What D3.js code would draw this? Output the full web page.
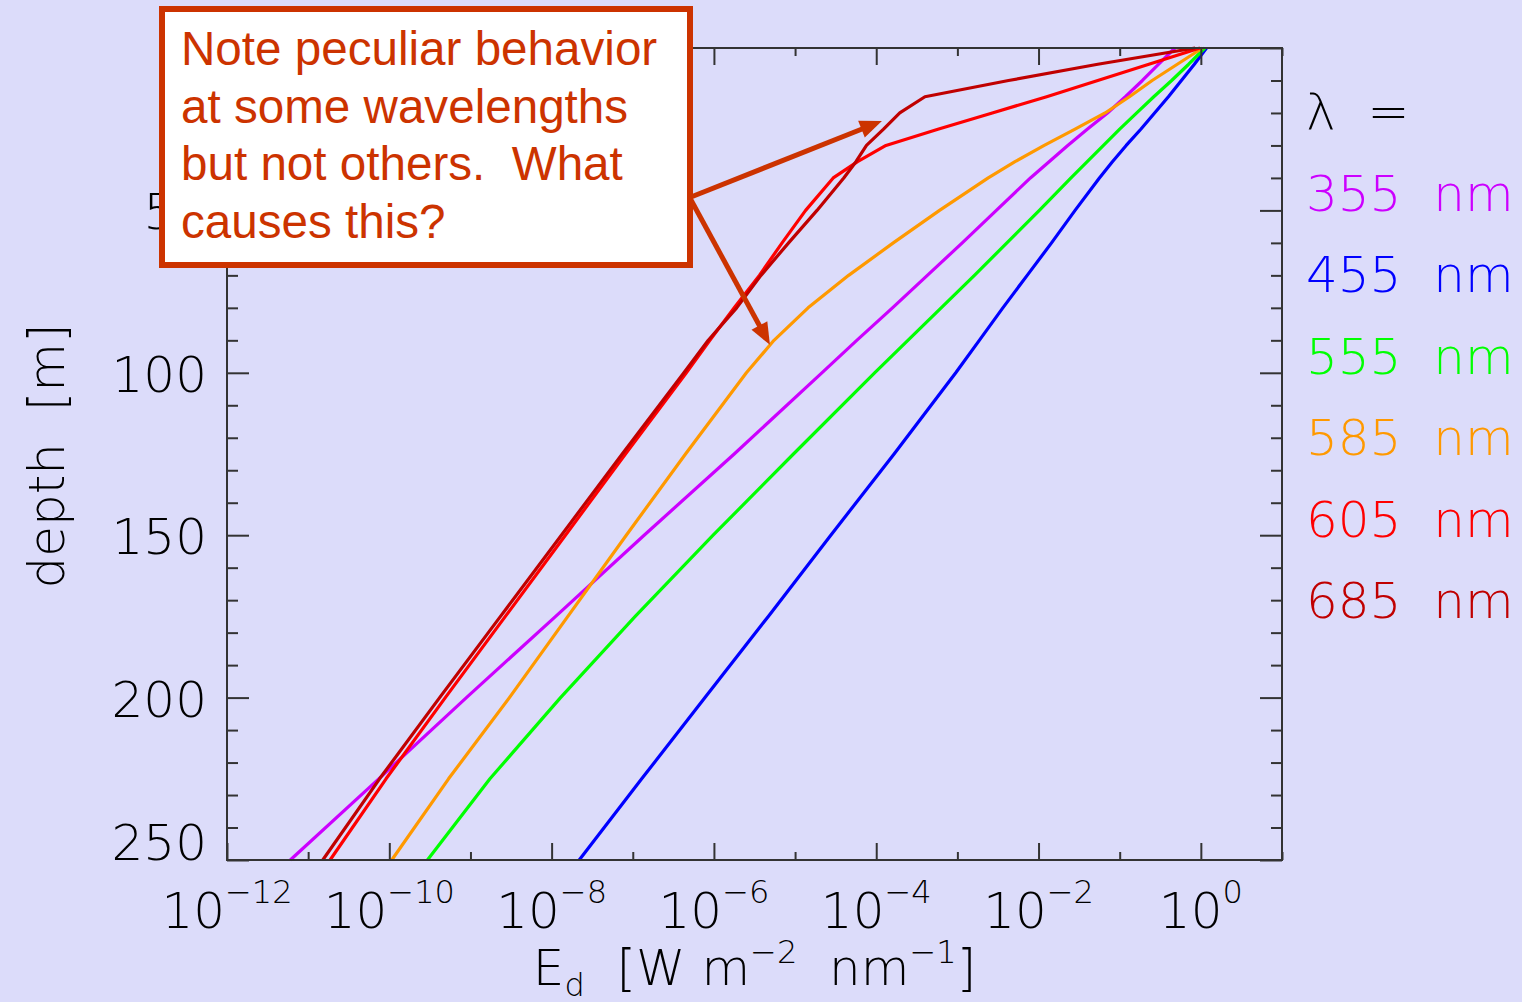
<!DOCTYPE html>
<html>
<head>
<meta charset="utf-8">
<script src="https://cdn.jsdelivr.net/npm/d3@7"></script>
<style>
  html, body { margin: 0; padding: 0; background: #dcdcfa; }
  svg text { white-space: pre; }
</style>
</head>
<body>
<svg id="mainsvg" width="1522" height="1002"></svg>
<script>
// depth grid [m] and log10(Ed) for each wavelength
const depths   = [0, 5, 10, 15, 20, 25, 30, 35, 40, 50, 60, 70, 80, 90, 100, 125, 150, 175, 200, 225, 250];
const logEd355 = [-0.32, -0.52, -0.72, -0.93, -1.15, -1.40, -1.64, -1.87, -2.10, -2.52, -2.94, -3.37, -3.80, -4.24, -4.67, -5.75, -6.86, -7.95, -9.05, -10.13, -11.22];
const logEd455 = [0.07, -0.08, -0.24, -0.40, -0.57, -0.74, -0.92, -1.09, -1.25, -1.55, -1.84, -2.14, -2.44, -2.73, -3.02, -3.78, -4.56, -5.33, -6.11, -6.89, -7.66];
const logEd555 = [0.05, -0.15, -0.36, -0.58, -0.79, -1.00, -1.20, -1.40, -1.60, -1.99, -2.39, -2.79, -3.20, -3.61, -4.02, -5.02, -6.01, -6.97, -7.89, -8.76, -9.53];
const logEd585 = [0.02, -0.29, -0.60, -0.88, -1.18, -1.55, -1.93, -2.29, -2.62, -3.22, -3.79, -4.34, -4.84, -5.26, -5.60, -6.35, -7.08, -7.80, -8.52, -9.27, -9.97];
const logEd605 = [-0.01, -0.64, -1.27, -1.90, -2.57, -3.24, -3.88, -4.23, -4.53, -4.87, -5.16, -5.44, -5.75, -6.05, -6.34, -7.09, -7.83, -8.57, -9.31, -10.04, -10.73];
const logEd685 = [-0.07, -1.27, -2.37, -3.40, -3.71, -3.91, -4.12, -4.25, -4.40, -4.73, -5.08, -5.42, -5.72, -6.07, -6.37, -7.13, -7.88, -8.63, -9.38, -10.12, -10.82];

const wavelengths = [355, 455, 555, 585, 605, 685];
const lineColors  = ['#cc00ff', '#0000ff', '#00ff00', '#ff9900', '#ff0000', '#c00000'];
const seriesLogs  = [logEd355, logEd455, logEd555, logEd585, logEd605, logEd685];

const xMajor = [-12, -10, -8, -6, -4, -2, 0];
const xMinor = [-11, -9, -7, -5, -3, -1, 1];
const yMajor = [0, 50, 100, 150, 200, 250];
const yMinor = d3.range(0, 251, 10).filter(d => d % 50 !== 0);

const noteLines = ['Note peculiar behavior', 'at some wavelengths', 'but not others.  What', 'causes this?'];
// arrow tips in data units: [log10 Ed, depth]
const arrowTips = [[-3.93, 22.5], [-5.31, 91.4]];

let svg = d3.select('#mainsvg');
const axisFont = 'DejaVu Sans';
const axisColor = '#333';
const noteColor = '#cc3300';

let x = d3.scaleLog().domain([1e-12, 1e1]).range([227, 1282]);
let y = d3.scaleLinear().domain([0, 250]).range([48, 860]);

svg.append('rect').attr('width', 1522).attr('height', 1002).attr('fill', '#dcdcfa');

// curves
const line = d3.line()
  .x(v => x(Math.pow(10, v)))
  .y((v, i) => y(depths[i]));

svg.append('g').selectAll('path')
  .data(seriesLogs)
  .enter().append('path')
  .attr('d', d => line(d))
  .attr('fill', 'none')
  .attr('stroke', (d, i) => lineColors[i])
  .attr('stroke-width', 3.2)
  .attr('stroke-linejoin', 'round');

// axes (ticks only, labels drawn separately)
function addAxis(axis, tx, ty) {
  let g = svg.append('g').attr('transform', `translate(${tx},${ty})`).call(axis);
  g.select('.domain').remove();
  g.selectAll('line').attr('stroke', axisColor).attr('stroke-width', 2);
  g.selectAll('text').remove();
}
const pw = v => Math.pow(10, v);
addAxis(d3.axisBottom(x).tickValues(xMajor.map(pw)).tickSize(-17), 0, 860);
addAxis(d3.axisBottom(x).tickValues(xMinor.map(pw)).tickSize(-8), 0, 860);
addAxis(d3.axisTop(x).tickValues(xMajor.map(pw)).tickSize(-17), 0, 48);
addAxis(d3.axisTop(x).tickValues(xMinor.map(pw)).tickSize(-8), 0, 48);
addAxis(d3.axisLeft(y).tickValues(yMajor).tickSize(-22), 227, 0);
addAxis(d3.axisLeft(y).tickValues(yMinor).tickSize(-11), 227, 0);
addAxis(d3.axisRight(y).tickValues(yMajor).tickSize(-22), 1282, 0);
addAxis(d3.axisRight(y).tickValues(yMinor).tickSize(-11), 1282, 0);

svg.append('rect')
  .attr('x', 227).attr('y', 48).attr('width', 1282 - 227).attr('height', 860 - 48)
  .attr('fill', 'none').attr('stroke', axisColor).attr('stroke-width', 2);

// y tick labels
svg.append('g').selectAll('text')
  .data(yMajor)
  .enter().append('text')
  .attr('x', 207)
  .attr('y', d => Math.min(y(d) + 19, 860))
  .attr('text-anchor', 'end')
  .attr('font-family', axisFont).attr('font-size', 50).attr('font-weight', 200)
  .attr('fill', '#000')
  .text(d => d);

// x tick labels 10^n
let xl = svg.append('g').selectAll('text')
  .data(xMajor)
  .enter().append('text')
  .attr('x', d => x(pw(d)))
  .attr('y', 928)
  .attr('text-anchor', 'middle')
  .attr('font-family', axisFont).attr('font-weight', 200)
  .attr('fill', '#000');
xl.append('tspan').attr('font-size', 50).text('10');
xl.append('tspan').attr('font-size', 32).attr('dy', -25)
  .text(d => d < 0 ? '\u2212' + (-d) : String(d));

// axis titles
let xt = svg.append('text')
  .attr('x', (227 + 1282) / 2).attr('y', 985)
  .attr('text-anchor', 'middle')
  .attr('font-family', axisFont).attr('font-weight', 200).attr('font-size', 50)
  .attr('fill', '#000');
xt.append('tspan').text('E');
xt.append('tspan').attr('font-size', 32).attr('dy', 11).text('d');
xt.append('tspan').attr('dy', -11).text('  [W m');
xt.append('tspan').attr('font-size', 32).attr('dy', -22).text('\u22122');
xt.append('tspan').attr('dy', 22).text('  nm');
xt.append('tspan').attr('font-size', 32).attr('dy', -22).text('\u22121');
xt.append('tspan').attr('dy', 22).text(']');

svg.append('text')
  .attr('transform', 'translate(64,456) rotate(-90)')
  .attr('text-anchor', 'middle')
  .attr('font-family', axisFont).attr('font-weight', 200).attr('font-size', 50)
  .attr('fill', '#000')
  .text('depth  [m]');

// legend
svg.append('text')
  .attr('x', 1306).attr('y', 129)
  .attr('font-family', axisFont).attr('font-weight', 200).attr('font-size', 50)
  .attr('fill', '#000')
  .text('\u03bb  =');
svg.append('g').selectAll('text')
  .data(wavelengths)
  .enter().append('text')
  .attr('x', 1306)
  .attr('y', (d, i) => 211 + i * 81.4)
  .attr('font-family', axisFont).attr('font-weight', 200).attr('font-size', 50)
  .attr('fill', (d, i) => lineColors[i])
  .text(d => d + '  nm');

// annotation box
svg.append('rect')
  .attr('x', 162).attr('y', 9).attr('width', 528).attr('height', 256)
  .attr('fill', '#fff').attr('stroke', noteColor).attr('stroke-width', 6);
svg.append('g').selectAll('text')
  .data(noteLines)
  .enter().append('text')
  .attr('x', 181)
  .attr('y', (d, i) => 65 + i * 57.7)
  .attr('font-family', 'Liberation Sans, Arial, sans-serif')
  .attr('font-size', 47.6)
  .attr('fill', noteColor)
  .text(d => d);

// arrows from the box to the curves
const arrowStart = [[691, 197], [691, 200]];
arrowTips.forEach((t, i) => {
  const tx = x(pw(t[0])), ty = y(t[1]);
  const sx = arrowStart[i][0], sy = arrowStart[i][1];
  const len = Math.hypot(tx - sx, ty - sy);
  const ux = (tx - sx) / len, uy = (ty - sy) / len;
  const hl = 22, hw = 9;
  const bx = tx - ux * hl, by = ty - uy * hl;
  svg.append('line')
    .attr('x1', sx).attr('y1', sy).attr('x2', bx + ux * 2).attr('y2', by + uy * 2)
    .attr('stroke', noteColor).attr('stroke-width', 5);
  svg.append('path')
    .attr('d', `M${tx},${ty}L${bx - uy * hw},${by + ux * hw}L${bx + uy * hw},${by - ux * hw}Z`)
    .attr('fill', noteColor);
});
</script>
</body>
</html>
